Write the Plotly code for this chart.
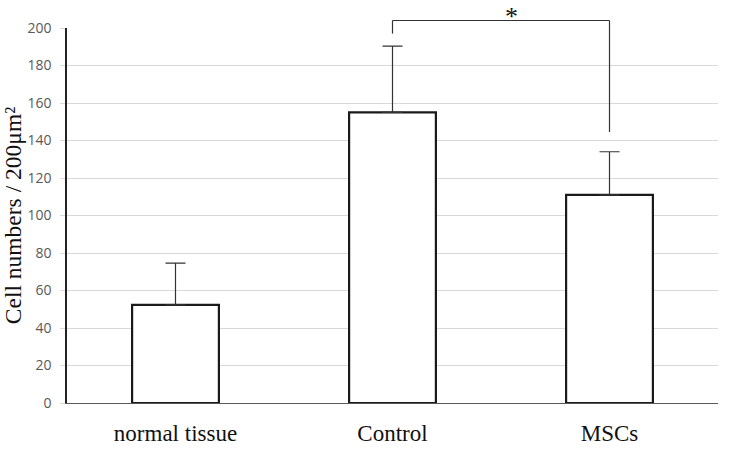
import plotly.graph_objects as go

categories = ["normal tissue", "Control", "MSCs"]
means = [52.3, 155.0, 111.0]
sd_upper = [22.3, 35.3, 23.0]
y_ticks = [0, 20, 40, 60, 80, 100, 120, 140, 160, 180, 200]
YMAX = 200

# significance bracket between Control and MSCs
sig_pair = ["Control", "MSCs"]
bracket_top = 204.0
bracket_left_end = 197.0
bracket_right_end = 144.5
sig_label = "*"

fig = go.Figure()
fig.add_trace(go.Bar(
    x=categories, y=means, width=0.4,
    marker=dict(color="white", line=dict(color="#1a1a1a", width=2.2)),
    error_y=dict(type="data", array=sd_upper, arrayminus=[0] * len(means), symmetric=False,
                 color="#333333", thickness=1.2, width=10),
    showlegend=False,
))

def d(v):
    return v / YMAX

line_style = dict(color="#333333", width=1.2)
fig.add_shape(type="line", xref="x", yref="y domain", x0=sig_pair[0], x1=sig_pair[1],
              y0=d(bracket_top), y1=d(bracket_top), line=line_style)
fig.add_shape(type="line", xref="x", yref="y domain", x0=sig_pair[0], x1=sig_pair[0],
              y0=d(bracket_top), y1=d(bracket_left_end), line=line_style)
fig.add_shape(type="line", xref="x", yref="y domain", x0=sig_pair[1], x1=sig_pair[1],
              y0=d(bracket_top), y1=d(bracket_right_end), line=line_style)
fig.add_annotation(x=1.55, xref="x", y=1 + 28 / 375, yref="paper", text=sig_label,
                   showarrow=False, yanchor="top",
                   font=dict(family="Liberation Serif", size=26, color="#111111"))

fig.update_layout(
    width=735, height=451,
    margin=dict(l=67, r=17, t=28, b=48),
    plot_bgcolor="white", paper_bgcolor="white",
)
fig.update_xaxes(
    automargin=False,
    showline=True, linecolor="#595959", linewidth=1.2,
    showgrid=False, ticks="", ticklabelstandoff=9,
    tickfont=dict(family="Liberation Serif", size=23, color="#111111"),
)
fig.update_yaxes(
    automargin=False,
    range=[0, YMAX], tickvals=y_ticks,
    showline=True, linecolor="#222222", linewidth=1.5,
    showgrid=True, gridcolor="#d9d9d9", gridwidth=1,
    ticks="outside", ticklen=5, tickcolor="#d9d9d9", ticklabelstandoff=6,
    tickfont=dict(family="Open Sans", size=14, color="#595959"),
    zeroline=False,
    title=dict(text="Cell numbers / 200μm²", standoff=8,
               font=dict(family="Liberation Serif", size=23.5, color="#111111")),
)

fig.write_html("out.html", config={"displayModeBar": False},
               post_script="document.body.style.margin='0px';")
